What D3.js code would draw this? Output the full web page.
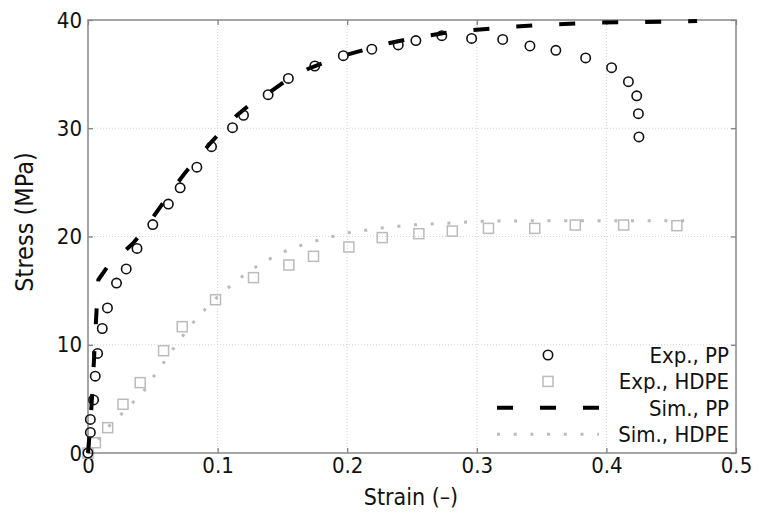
<!DOCTYPE html>
<html>
<head>
<meta charset="utf-8">
<script src="https://cdn.jsdelivr.net/npm/d3@7"></script>
<style>
  body { margin: 0; background: #fff; }
  svg text { font-family: "DejaVu Sans Condensed", "DejaVu Sans", sans-serif; fill: #111; }
</style>
</head>
<body>
<div class="stress-strain-chart"></div>
<script>
// Experimental PP (circles)
const expPPStrain = [0, 0.0018, 0.0018, 0.0043, 0.0056, 0.0074, 0.011, 0.015, 0.022, 0.0295, 0.0378,
  0.050, 0.062, 0.0711, 0.084, 0.0953, 0.1115, 0.12, 0.139, 0.1546, 0.175, 0.197, 0.219, 0.2394,
  0.253, 0.273, 0.296, 0.32, 0.341, 0.361, 0.384, 0.404, 0.417, 0.4234, 0.4247, 0.4251];
const expPPStress = [0, 1.9, 3.1, 4.9, 7.1, 9.2, 11.5, 13.4, 15.7, 17.0, 18.9,
  21.1, 23.0, 24.5, 26.4, 28.3, 30.05, 31.2, 33.1, 34.6, 35.75, 36.7, 37.3, 37.7,
  38.1, 38.55, 38.3, 38.2, 37.6, 37.2, 36.5, 35.6, 34.3, 33.0, 31.35, 29.2];

// Experimental HDPE (squares)
const expHDPEStrain = [0, 0.0057, 0.0152, 0.027, 0.0403, 0.0583, 0.0727, 0.0984, 0.1277, 0.155,
  0.174, 0.2013, 0.227, 0.2553, 0.2811, 0.309, 0.3447, 0.376, 0.4133, 0.4544];
const expHDPEStress = [0, 0.95, 2.34, 4.5, 6.5, 9.45, 11.67, 14.16, 16.2, 17.37,
  18.17, 19.03, 19.9, 20.26, 20.5, 20.75, 20.75, 21.06, 21.06, 21.0];

// Simulated PP (dashed)
const simPPStrain = [0, 0.002, 0.0035, 0.005, 0.0065, 0.008, 0.015, 0.025, 0.035, 0.045, 0.055,
  0.065, 0.075, 0.085, 0.095, 0.105, 0.115, 0.125, 0.14, 0.155, 0.17, 0.185, 0.2, 0.215, 0.23,
  0.25, 0.275, 0.3, 0.33, 0.36, 0.39, 0.42, 0.45, 0.47];
const simPPStress = [0, 3, 6, 9.5, 13, 16, 17.2, 18.3, 19.4, 20.9, 22.6,
  24.3, 25.9, 27.3, 28.7, 30.0, 31.2, 32.2, 33.3, 34.6, 35.5, 36.2, 36.8, 37.3, 37.8,
  38.3, 38.8, 39.1, 39.4, 39.6, 39.75, 39.8, 39.85, 39.9];

// Simulated HDPE (dotted)
const simHDPEStrain = [0, 0.0154, 0.025, 0.034, 0.0429, 0.05, 0.0575, 0.0647, 0.0724, 0.08,
  0.0886, 0.098, 0.107, 0.1166, 0.127, 0.138, 0.1495, 0.161, 0.173, 0.1854, 0.198, 0.2106,
  0.2235, 0.236, 0.249, 0.261, 0.274, 0.287, 0.299, 0.312, 0.35, 0.4, 0.4655];
const simHDPEStress = [0, 2.4, 3.5, 4.6, 5.7, 6.96, 8.2, 9.45, 10.7, 11.9,
  13.05, 14.2, 15.15, 16.1, 17.0, 17.8, 18.5, 19.06, 19.5, 19.9, 20.3, 20.5,
  20.75, 20.9, 21.06, 21.15, 21.2, 21.3, 21.37, 21.43, 21.45, 21.45, 21.45];

const xTicks = [0, 0.1, 0.2, 0.3, 0.4, 0.5];
const yTicks = [0, 10, 20, 30, 40];
const legendLabels = ['Exp., PP', 'Exp., HDPE', 'Sim., PP', 'Sim., HDPE'];

{
  const margin = { top: 20, right: 26, bottom: 67, left: 88 };
  const width = 762 - margin.left - margin.right;
  const height = 520 - margin.top - margin.bottom;

  const svg = d3.select('.stress-strain-chart')
    .append('svg')
    .attr('width', 762)
    .attr('height', 520);

  const g = svg.append('g')
    .attr('transform', `translate(${margin.left}, ${margin.top})`);

  const xScale = d3.scaleLinear().domain([0, 0.5]).range([0, width]);
  const yScale = d3.scaleLinear().domain([0, 40]).range([height, 0]);

  const fmtX = d => (d === 0 ? '0' : d3.format('.1f')(d));

  // dotted grid
  const grid = g.append('g').attr('class', 'grid')
    .attr('stroke', '#d4d4d4')
    .attr('stroke-width', 1)
    .attr('stroke-dasharray', '1,2');
  grid.selectAll('.gx').data(xTicks.slice(1, -1)).enter().append('line')
    .attr('x1', d => xScale(d)).attr('x2', d => xScale(d))
    .attr('y1', 0).attr('y2', height);
  grid.selectAll('.gy').data(yTicks.slice(1, -1)).enter().append('line')
    .attr('y1', d => yScale(d)).attr('y2', d => yScale(d))
    .attr('x1', 0).attr('x2', width);

  // axes with inward ticks
  const styleAxis = (sel) => {
    sel.select('.domain').remove();
    sel.selectAll('.tick line').attr('stroke', '#777').attr('stroke-width', 1.2);
    sel.selectAll('text').style('font-size', '22px').attr('fill', '#111');
  };

  g.append('g')
    .attr('transform', `translate(0, ${height})`)
    .call(d3.axisBottom(xScale).tickValues(xTicks).tickFormat(fmtX).tickSize(-5).tickPadding(4))
    .call(styleAxis);

  g.append('g')
    .call(d3.axisLeft(yScale).tickValues(yTicks).tickFormat(d3.format('d')).tickSize(-5).tickPadding(6))
    .call(styleAxis);

  g.append('g')
    .call(d3.axisTop(xScale).tickValues(xTicks).tickFormat('').tickSize(-5))
    .call(styleAxis);

  g.append('g')
    .attr('transform', `translate(${width}, 0)`)
    .call(d3.axisRight(yScale).tickValues(yTicks).tickFormat('').tickSize(-5))
    .call(styleAxis);

  g.append('rect')
    .attr('width', width)
    .attr('height', height)
    .attr('fill', 'none')
    .attr('stroke', '#888')
    .attr('stroke-width', 1.5);

  const line = d3.line().x(d => xScale(d[0])).y(d => yScale(d[1]));
  const zip = (a, b) => a.map((v, i) => [v, b[i]]);

  // simulated HDPE (dotted)
  g.append('path')
    .datum(zip(simHDPEStrain, simHDPEStress))
    .attr('d', line)
    .attr('fill', 'none')
    .attr('stroke', '#bbb')
    .attr('stroke-width', 3)
    .attr('stroke-dasharray', '3,13.7');

  // experimental HDPE (squares)
  g.selectAll('.sq').data(zip(expHDPEStrain, expHDPEStress)).enter().append('rect')
    .attr('x', d => xScale(d[0]) - 5)
    .attr('y', d => yScale(d[1]) - 5)
    .attr('width', 10)
    .attr('height', 10)
    .attr('fill', 'none')
    .attr('stroke', '#bbb')
    .attr('stroke-width', 1.5);

  // simulated PP (dashed)
  g.append('path')
    .datum(zip(simPPStrain, simPPStress))
    .attr('d', line)
    .attr('fill', 'none')
    .attr('stroke', '#000')
    .attr('stroke-width', 4)
    .attr('stroke-dasharray', '16,27');

  // experimental PP (circles)
  g.selectAll('.circ').data(zip(expPPStrain, expPPStress)).enter().append('circle')
    .attr('cx', d => xScale(d[0]))
    .attr('cy', d => yScale(d[1]))
    .attr('r', 4.7)
    .attr('fill', 'none')
    .attr('stroke', '#111')
    .attr('stroke-width', 1.6);

  // axis titles
  svg.append('text')
    .attr('x', 411)
    .attr('y', 505)
    .attr('text-anchor', 'middle')
    .style('font-size', '23px')
    .text('Strain (–)');

  svg.append('text')
    .attr('transform', 'translate(33, 222) rotate(-90)')
    .attr('text-anchor', 'middle')
    .style('font-size', '25px')
    .text('Stress (MPa)');

  // legend
  const legend = svg.append('g').attr('class', 'legend')
    .selectAll('g')
    .data(legendLabels)
    .enter()
    .append('g')
    .attr('transform', (d, i) => `translate(0, ${355 + i * 26.4})`);

  legend.append('text')
    .attr('x', 729)
    .attr('y', 0)
    .attr('dy', '0.35em')
    .attr('text-anchor', 'end')
    .style('font-size', '22px')
    .text(d => d);

  legend.filter((d, i) => i === 0).append('circle')
    .attr('cx', 548).attr('cy', 0).attr('r', 4.7)
    .attr('fill', 'none').attr('stroke', '#111').attr('stroke-width', 1.6);

  legend.filter((d, i) => i === 1).append('rect')
    .attr('x', 543).attr('y', -5).attr('width', 10).attr('height', 10)
    .attr('fill', 'none').attr('stroke', '#bbb').attr('stroke-width', 1.5);

  legend.filter((d, i) => i === 2).append('line')
    .attr('x1', 497).attr('x2', 599).attr('y1', 0).attr('y2', 0)
    .attr('stroke', '#000').attr('stroke-width', 4).attr('stroke-dasharray', '16,27');

  legend.filter((d, i) => i === 3).append('line')
    .attr('x1', 497).attr('x2', 599).attr('y1', 0).attr('y2', 0)
    .attr('stroke', '#bbb').attr('stroke-width', 3).attr('stroke-dasharray', '3,13.7');
}
</script>
</body>
</html>
